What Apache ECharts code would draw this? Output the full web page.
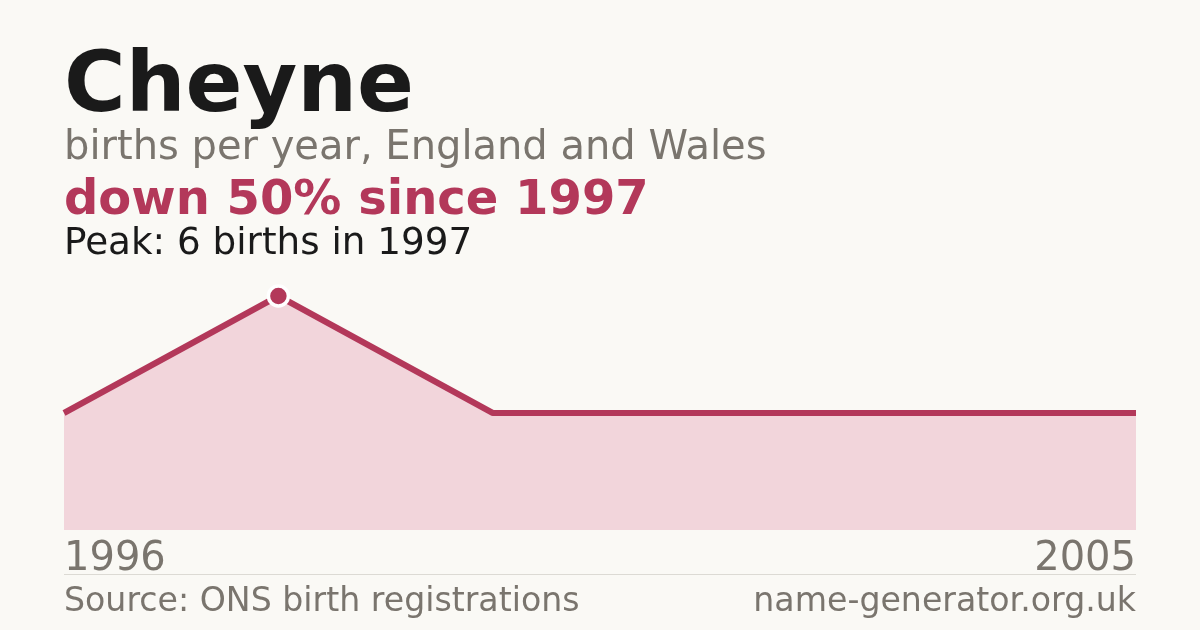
<!DOCTYPE html>
<html>
<head>
<meta charset="utf-8">
<script src="https://cdn.jsdelivr.net/npm/echarts@6/dist/echarts.min.js"></script>
<style>
html,body{margin:0;padding:0;background:#faf9f5;}
#c{width:1200px;height:630px;}
</style>
</head>
<body>
<div id="c"></div>
<script>
const years = ['1996', '1997', '1999', '2001', '2003', '2005'];
const births = [3, 6, 3, 3, 3, 3];
const titleText = 'Cheyne';
const subtitleText = 'births per year, England and Wales';
const changeText = 'down 50% since 1997';
const peakText = 'Peak: 6 births in 1997';
const sourceText = 'Source: ONS birth registrations';
const siteText = 'name-generator.org.uk';

const FONT = '"DejaVu Sans", sans-serif';
const RED = '#b3385a';
const peakIdx = births.indexOf(Math.max(...births));
const seriesData = births.map((v, i) => i === peakIdx ? {
  value: v, symbol: 'circle', symbolSize: 20,
  itemStyle: { color: RED, borderColor: '#ffffff', borderWidth: 3.5 }
} : { value: v, symbol: 'none' });

const chart = echarts.init(document.getElementById('c'), null, { renderer: 'canvas' });
chart.setOption({
  backgroundColor: '#faf9f5',
  animation: false,
  grid: { left: 64, right: 64, top: 296, bottom: 100 },
  xAxis: {
    type: 'category', data: years, boundaryGap: false,
    axisLine: { show: false }, axisTick: { show: false }, splitLine: { show: false },
    axisLabel: {
      interval: (i) => i === 0 || i === years.length - 1,
      alignMinLabel: 'left', alignMaxLabel: 'right',
      color: '#7a756e', fontSize: 40, fontFamily: FONT, margin: 10
    }
  },
  yAxis: {
    type: 'value', min: 0, max: 6, show: false, splitLine: { show: false }
  },
  series: [{
    type: 'line', data: seriesData, showSymbol: true,
    lineStyle: { color: RED, width: 6 },
    itemStyle: { color: RED },
    areaStyle: { color: '#f2d5db', opacity: 1 },
    z: 3
  }],
  graphic: [
    { type: 'text', x: 64, y: 89, style: { text: titleText, font: 'bold 84px ' + FONT, fill: '#1a1a1a', verticalAlign: 'middle' } },
    { type: 'text', x: 64, y: 149, style: { text: subtitleText, font: '40px ' + FONT, fill: '#7a756e', verticalAlign: 'middle' } },
    { type: 'text', x: 64, y: 202, style: { text: changeText, font: 'bold 48px ' + FONT, fill: RED, verticalAlign: 'middle' } },
    { type: 'text', x: 64, y: 244, style: { text: peakText, font: '37.3px ' + FONT, fill: '#1a1a1a', verticalAlign: 'middle' } },
    { type: 'line', shape: { x1: 64, y1: 574.5, x2: 1136, y2: 574.5 }, style: { stroke: '#dcdad4', lineWidth: 1 } },
    { type: 'text', x: 64, y: 602, style: { text: sourceText, font: '33.2px ' + FONT, fill: '#7a756e', verticalAlign: 'middle' } },
    { type: 'text', x: 1136, y: 602, style: { text: siteText, font: '33.2px ' + FONT, fill: '#7a756e', verticalAlign: 'middle', align: 'right' } }
  ]
});
</script>
</body>
</html>
